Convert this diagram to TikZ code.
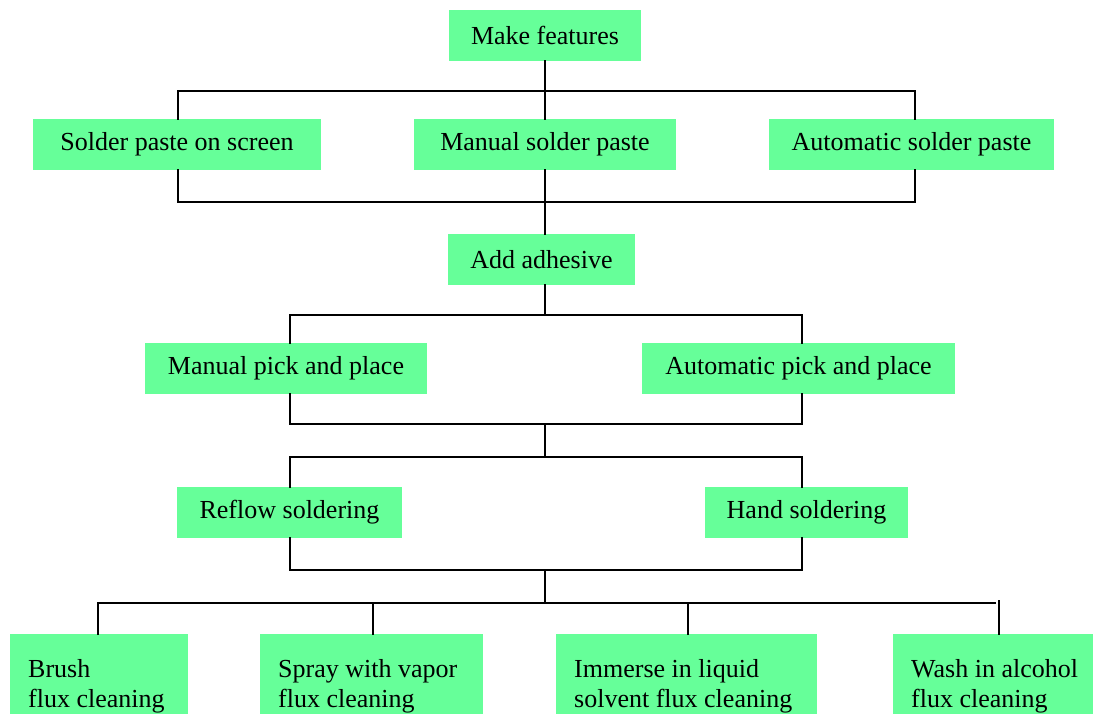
\documentclass[tikz,border=0pt]{standalone}
\usepackage{fontspec}
\setmainfont{Liberation Serif}
\definecolor{boxgreen}{HTML}{66FF99}
\begin{document}
\begin{tikzpicture}[x=1pt,y=-1pt,
  box/.style={fill=boxgreen,draw=none,inner sep=0pt,minimum height=51pt,font=\fontsize{26}{30}\selectfont},
  lbox/.style={fill=boxgreen,draw=none,anchor=north west,inner xsep=18pt,inner ysep=0pt,minimum height=104pt,align=flush left,font=\fontsize{26}{30}\selectfont},
  conn/.style={line width=1.8pt,line cap=rect,line join=miter}]
\useasboundingbox[fill=white] (0,0) rectangle (1093,713);
% nodes
\node[box,minimum width=192pt] (mf) at (545,35.5) {Make features};
\node[box,minimum width=288pt] (sps) at (177,144.5) {Solder paste on screen};
\node[box,minimum width=262pt] (msp) at (545,144.5) {Manual solder paste};
\node[box,minimum width=285pt] (asp) at (911.5,144.5) {Automatic solder paste};
\node[box,minimum width=187pt] (aa) at (541.5,259.5) {Add adhesive};
\node[box,minimum width=282pt] (mpp) at (286,368.5) {Manual pick and place};
\node[box,minimum width=313pt] (app) at (798.5,368.5) {Automatic pick and place};
\node[box,minimum width=225pt] (rs) at (289.5,512.5) {Reflow soldering};
\node[box,minimum width=203pt] (hs) at (806.5,512.5) {Hand soldering};
\node[lbox,text width=142pt] (br) at (10,634) {Brush\\flux cleaning};
\node[lbox,text width=187pt] (sp) at (260,634) {Spray with vapor\\flux cleaning};
\node[lbox,text width=225pt] (im) at (556,634) {Immerse in liquid\\solvent flux cleaning};
\node[lbox,text width=190pt] (wa) at (893,634) {Wash in alcohol\\flux cleaning};
% coordinates
\coordinate (b1L) at (178,91);  \coordinate (b1C) at (545,91);  \coordinate (b1R) at (915,91);
\coordinate (b2L) at (178,202); \coordinate (b2C) at (545,202); \coordinate (b2R) at (915,202);
\coordinate (b3L) at (290,315); \coordinate (b3C) at (545,315); \coordinate (b3R) at (802,315);
\coordinate (b4L) at (290,424); \coordinate (b4C) at (545,424); \coordinate (b4R) at (802,424);
\coordinate (b5L) at (290,457); \coordinate (b5C) at (545,457); \coordinate (b5R) at (802,457);
\coordinate (b6L) at (290,570); \coordinate (b6C) at (545,570); \coordinate (b6R) at (802,570);
\coordinate (b7L) at (98,603);  \coordinate (b7C) at (545,603); \coordinate (b7R) at (995,603);
\coordinate (c1) at (98,603); \coordinate (c2) at (373,603); \coordinate (c3) at (688,603); \coordinate (c4) at (999,601);
% connectors
\draw[conn] (mf.south -| b1C) -- (b1C);
\draw[conn] (b1L) -- (b1R);
\draw[conn] (b1L) -- (sps.north -| b1L);
\draw[conn] (b1C) -- (msp.north -| b1C);
\draw[conn] (b1R) -- (asp.north -| b1R);
\draw[conn] (sps.south -| b2L) -- (b2L) -- (b2R) -- (asp.south -| b2R);
\draw[conn] (msp.south -| b2C) -- (b2C);
\draw[conn] (b2C) -- (aa.north -| b2C);
\draw[conn] (aa.south -| b3C) -- (b3C);
\draw[conn] (mpp.north -| b3L) -- (b3L) -- (b3R) -- (app.north -| b3R);
\draw[conn] (mpp.south -| b4L) -- (b4L) -- (b4R) -- (app.south -| b4R);
\draw[conn] (b4C) -- (b5C);
\draw[conn] (rs.north -| b5L) -- (b5L) -- (b5R) -- (hs.north -| b5R);
\draw[conn] (rs.south -| b6L) -- (b6L) -- (b6R) -- (hs.south -| b6R);
\draw[conn] (b6C) -- (b7C);
\draw[conn] (b7L) -- (b7R);
\draw[conn] (c1) -- (br.north -| c1);
\draw[conn] (c2) -- (sp.north -| c2);
\draw[conn] (c3) -- (im.north -| c3);
\draw[conn] (c4) -- (wa.north -| c4);
\end{tikzpicture}
\end{document}
